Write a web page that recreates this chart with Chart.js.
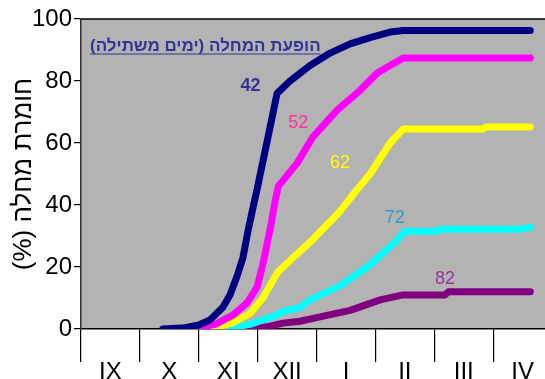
<!DOCTYPE html>
<html>
<head>
<meta charset="utf-8">
<script src="https://cdn.jsdelivr.net/npm/chart.js@4.4.1/dist/chart.umd.min.js"></script>
<style>
  html, body { margin: 0; padding: 0; background: #fff; }
  #wrap { width: 545px; height: 379px; }
</style>
</head>
<body>
<div id="wrap"><canvas id="diseaseChart"></canvas></div>
<script>
// חודשי העונה (ספטמבר עד אפריל), ציר x ביחידות חודש מתחילת ספטמבר
const months = ['IX', 'X', 'XI', 'XII', 'I', 'II', 'III', 'IV'];
const yTicks = [0, 20, 40, 60, 80, 100];

// חומרת מחלה (%) לפי מועד
const t42 = [1.39, 1.77, 2.00, 2.19, 2.41, 2.53, 2.65, 2.75, 2.84, 2.92, 2.99, 3.21, 3.33, 3.55, 3.89, 4.23, 4.57, 4.91, 5.25, 5.47, 7.63];
const s42 = [0, 0.4, 1.3, 2.9, 7, 11, 17, 23, 32, 39, 45, 65, 76, 80, 85, 89, 92, 94, 95.8, 96.3, 96.3];

const t52 = [1.72, 1.97, 2.28, 2.58, 2.82, 2.99, 3.09, 3.21, 3.30, 3.35, 3.67, 3.94, 4.35, 4.74, 5.03, 5.47, 7.63];
const s52 = [0, 0.3, 1.5, 4.5, 8.4, 13.5, 21, 32, 41.6, 46, 53.5, 62, 70.6, 77, 82.6, 87.4, 87.4];

const t62 = [2.06, 2.33, 2.58, 2.87, 3.09, 3.30, 3.35, 3.60, 3.89, 4.40, 4.69, 4.91, 5.25, 5.47, 6.83, 6.88, 7.63];
const s62 = [0, 0.8, 2, 5, 10, 17, 18.5, 23, 28, 38, 45, 50, 60, 64.5, 64.5, 65.2, 65.2];

const t72 = [2.40, 2.87, 3.33, 3.40, 3.72, 3.89, 4.40, 4.86, 5.13, 5.37, 5.50, 6.05, 6.10, 7.46, 7.63];
const s72 = [0, 1.5, 4.5, 5.5, 7, 9.4, 14, 20, 24.5, 28.7, 31.5, 31.6, 32.2, 32.2, 32.8];

const t82 = [2.74, 3.16, 3.43, 3.72, 4.06, 4.57, 5.08, 5.47, 6.18, 6.24, 7.63];
const s82 = [0, 0.7, 1.9, 2.5, 3.9, 6, 9.4, 11, 11, 12, 12];

const FONT = '"Liberation Sans", Arial, sans-serif';
const RLM = '\u200F';

const pts = (t, s) => t.map((x, i) => ({ x, y: s[i] }));
const series = (label, t, s, color) => ({
  label, data: pts(t, s), borderColor: color, backgroundColor: color,
  borderWidth: 7, pointRadius: 0, tension: 0,
  borderCapStyle: 'round', borderJoinStyle: 'round',
});

// תוויות הסדרות בתוך השטח
const tags = [
  { text: '42', x: 2.88, y: 78.5, color: '#333399', bold: true },
  { text: '52', x: 3.69, y: 66.6, color: '#ff3399' },
  { text: '62', x: 4.40, y: 53.6, color: '#ffff00' },
  { text: '72', x: 5.33, y: 35.8, color: '#3399cc' },
  { text: '82', x: 6.18, y: 16.0, color: '#993399' },
];

const plotFrame = {
  id: 'plotFrame',
  beforeDraw(chart) {
    const { ctx, chartArea: a } = chart;
    ctx.save();
    ctx.fillStyle = '#b3b3b3';
    ctx.fillRect(a.left, a.top, a.right - a.left, a.bottom - a.top);
    ctx.strokeStyle = '#000';
    ctx.lineWidth = 1.5;
    ctx.beginPath();
    ctx.moveTo(a.left, a.top);
    ctx.lineTo(a.right, a.top);
    ctx.stroke();
    ctx.restore();
  },
  afterDatasetsDraw(chart) {
    const { ctx, scales: { x, y } } = chart;
    ctx.save();
    ctx.textAlign = 'center';
    ctx.textBaseline = 'middle';
    tags.forEach((t) => {
      ctx.font = (t.bold ? 'bold ' : '') + '18px ' + FONT;
      ctx.fillStyle = t.color;
      ctx.fillText(t.text, x.getPixelForValue(t.x), y.getPixelForValue(t.y));
    });
    // כותרת פנימית עם קו תחתון
    const title = RLM + 'הופעת המחלה (ימים משתילה)' + RLM;
    ctx.font = 'bold 17px ' + FONT;
    ctx.fillStyle = '#333399';
    ctx.textAlign = 'left';
    ctx.textBaseline = 'alphabetic';
    const left = chart.chartArea.left + 9;
    const base = 51;
    const w = ctx.measureText(title).width;
    ctx.fillText(title, left, base);
    ctx.strokeStyle = '#333399';
    ctx.lineWidth = 1.2;
    ctx.beginPath();
    ctx.moveTo(left, base + 3);
    ctx.lineTo(left + w, base + 3);
    ctx.stroke();
    ctx.restore();
  },
};

new Chart(document.getElementById('diseaseChart'), {
  type: 'line',
  data: {
    datasets: [
      series('42', t42, s42, '#000080'),
      series('52', t52, s52, '#ff00ff'),
      series('62', t62, s62, '#ffff00'),
      series('72', t72, s72, '#00ffff'),
      series('82', t82, s82, '#800080'),
    ],
  },
  options: {
    responsive: true, maintainAspectRatio: false, animation: false,
    layout: { padding: { top: 19, right: 0, left: 0, bottom: 0 } },
    plugins: { legend: { display: false }, tooltip: { enabled: false } },
    scales: {
      x: {
        type: 'linear', min: 0, max: 7.88,
        afterBuildTicks: (s) => {
          const ticks = [];
          for (let i = 0; i < months.length; i++) {
            ticks.push({ value: i });
            ticks.push({ value: i + 0.5 });
          }
          s.ticks = ticks;
        },
        afterFit: (s) => { s.height = 50; },
        ticks: {
          autoSkip: false, maxRotation: 0, padding: -4,
          color: '#000', font: { size: 24, family: FONT },
          callback: (v) => (Number.isInteger(v) ? '' : months[Math.floor(v)]),
        },
        grid: {
          drawOnChartArea: false, tickLength: 33, lineWidth: 1.2,
          color: (c) => (c.tick && Number.isInteger(c.tick.value) ? '#000' : 'rgba(0,0,0,0)'),
        },
        border: { display: true, color: '#000', width: 1.5 },
      },
      y: {
        min: 0, max: 100,
        afterBuildTicks: (s) => { s.ticks = yTicks.map((v) => ({ value: v })); },
        afterFit: (s) => { s.width = 81; },
        ticks: { color: '#000', padding: 2, font: { size: 24, family: FONT } },
        grid: { drawOnChartArea: false, tickLength: 7, color: '#000', lineWidth: 1.2 },
        border: { display: true, color: '#333', width: 1.5 },
        title: {
          display: true, text: RLM + 'חומרת מחלה (%)' + RLM,
          color: '#000', font: { size: 26, family: FONT },
          padding: { top: 8, bottom: 0 },
        },
      },
    },
  },
  plugins: [plotFrame],
});
</script>
</body>
</html>
